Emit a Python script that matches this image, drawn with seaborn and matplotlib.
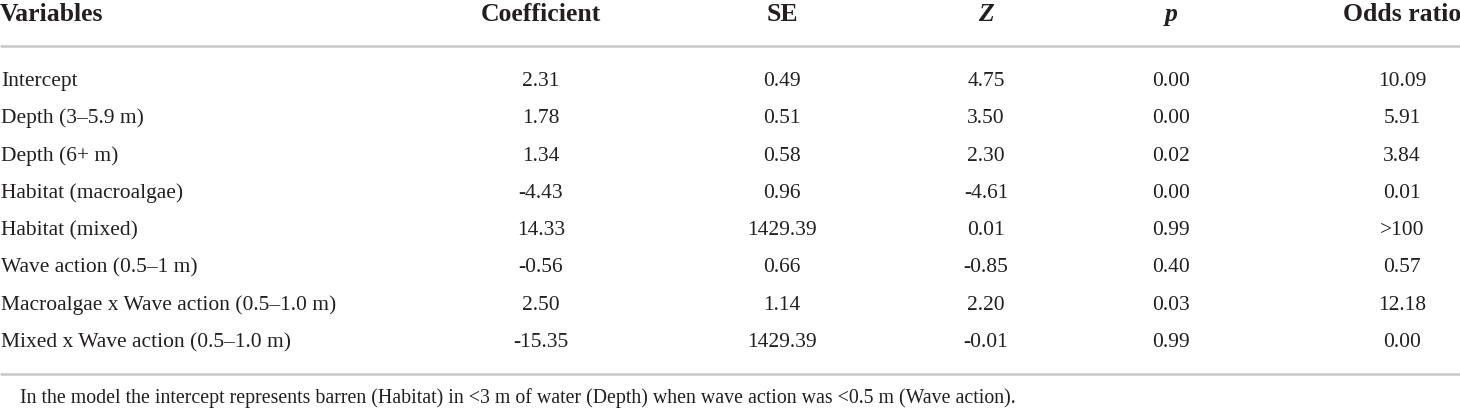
import matplotlib
matplotlib.use("Agg")
import matplotlib.pyplot as plt
import seaborn as sns
import pandas as pd

# ---- data ----
columns = ["Variables", "Coefficient", "SE", "Z", "p", "Odds ratio"]
variables = [
    "Intercept",
    "Depth (3\u20135.9 m)",
    "Depth (6+ m)",
    "Habitat (macroalgae)",
    "Habitat (mixed)",
    "Wave action (0.5\u20131 m)",
    "Macroalgae x Wave action (0.5\u20131.0 m)",
    "Mixed x Wave action (0.5\u20131.0 m)",
]
coefficient = ["2.31", "1.78", "1.34", "-4.43", "14.33", "-0.56", "2.50", "-15.35"]
se = ["0.49", "0.51", "0.58", "0.96", "1429.39", "0.66", "1.14", "1429.39"]
z_vals = ["4.75", "3.50", "2.30", "-4.61", "0.01", "-0.85", "2.20", "-0.01"]
p_vals = ["0.00", "0.00", "0.02", "0.00", "0.99", "0.40", "0.03", "0.99"]
odds_ratio = ["10.09", "5.91", "3.84", "0.01", ">100", "0.57", "12.18", "0.00"]
footnote = ("In the model the intercept represents barren (Habitat) in <3 m of water "
            "(Depth) when wave action was <0.5 m (Wave action).")

df = pd.DataFrame({
    "Variables": variables,
    "Coefficient": coefficient,
    "SE": se,
    "Z": z_vals,
    "p": p_vals,
    "Odds ratio": odds_ratio,
})

# ---- style ----
sns.set_theme(style="white")
serif = ["Liberation Serif", "DejaVu Serif"]
plt.rcParams["font.family"] = serif

W, H = 1460, 408
fig = plt.figure(figsize=(W / 100, H / 100), dpi=100)
ax = fig.add_axes([0, 0, 1, 1])
ax.set_xlim(0, W)
ax.set_ylim(H, 0)
ax.axis("off")

txt_color = "#231f20"
line_color = "#c8c8c8"
body_fs = 15.5
foot_fs = 14.3
head_fs = 18.5

col_x = {"Coefficient": 541, "SE": 782, "Z": 986, "p": 1171, "Odds ratio": 1402}
header_base = 21
row_base0 = 86
row_dy = 37.3

# header
ax.text(0, header_base, "Variables", ha="left", va="baseline", fontsize=head_fs,
        fontweight="bold", family=serif, color=txt_color)
for c in columns[1:]:
    style = "italic" if c in ("Z", "p") else "normal"
    ax.text(col_x[c], header_base, c, ha="center", va="baseline", fontsize=head_fs,
            fontweight="bold", fontstyle=style, family=serif, color=txt_color)

# rules
ax.plot([0, W], [46, 46], color=line_color, lw=1.8, solid_capstyle="butt")
ax.plot([0, W], [374, 374], color=line_color, lw=1.8, solid_capstyle="butt")

# body
for i, row in df.iterrows():
    yb = row_base0 + i * row_dy
    ax.text(1, yb, row["Variables"], ha="left", va="baseline", fontsize=body_fs,
            color=txt_color)
    for c in columns[1:]:
        ax.text(col_x[c], yb, row[c], ha="center", va="baseline", fontsize=body_fs,
                color=txt_color)

ax.text(20, 403, footnote, ha="left", va="baseline", fontsize=foot_fs, color=txt_color)

fig.savefig("out.png", dpi=100, facecolor="white")
